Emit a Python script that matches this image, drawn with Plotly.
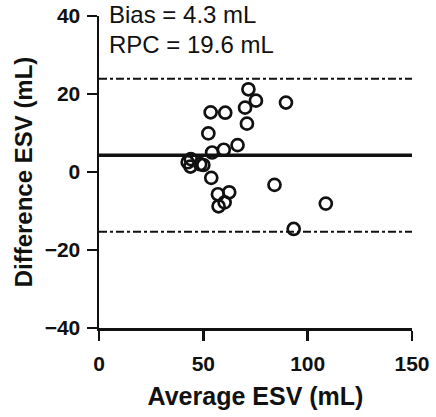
import plotly.graph_objects as go

avg_esv = [42.5, 44.0, 43.8, 48.5, 50.0, 53.5, 52.4, 54.2, 53.8, 57.0, 57.3, 60.2, 62.4,
           59.8, 60.5, 66.4, 70.0, 70.9, 71.6, 75.2, 89.6, 84.1, 93.3, 108.7]
diff_esv = [2.5, 3.3, 1.4, 2.0, 1.8, 15.3, 9.9, 5.0, -1.5, -5.7, -8.8, -7.8, -5.2,
            5.7, 15.2, 6.9, 16.5, 12.4, 21.2, 18.3, 17.8, -3.3, -14.6, -8.1]
bias = 4.3
rpc = 19.6
x_ticks = [0, 50, 100, 150]
y_ticks = [-40, -20, 0, 20, 40]

FONT = "Liberation Sans, Arial, sans-serif"

fig = go.Figure()
fig.add_trace(go.Scatter(
    x=avg_esv, y=diff_esv, mode="markers",
    marker=dict(symbol="circle-open", size=12, color="#111111",
                line=dict(width=2.7, color="#111111")),
    showlegend=False, cliponaxis=False, hoverinfo="skip",
))

fig.add_shape(type="line", xref="x", yref="y", x0=0, x1=150, y0=bias, y1=bias,
              line=dict(color="#111111", width=3.5))
for v in (bias + rpc, bias - rpc):
    fig.add_shape(type="line", xref="x", yref="y", x0=0, x1=150, y0=v, y1=v,
                  line=dict(color="#111111", width=2, dash="8px,3px,3px,3px"))

fig.add_annotation(x=0.025, y=1.005, xref="paper", yref="paper", text=f"Bias = {bias} mL",
                   showarrow=False, xanchor="left", yanchor="middle",
                   font=dict(family=FONT, size=24, color="#111111"))
fig.add_annotation(x=0.025, y=0.91, xref="paper", yref="paper", text=f"RPC = {rpc} mL",
                   showarrow=False, xanchor="left", yanchor="middle",
                   font=dict(family=FONT, size=24, color="#111111"))

axis_common = dict(
    showgrid=False, zeroline=False, showline=True, linecolor="#111111", linewidth=2.5,
    ticks="outside", ticklen=10, tickwidth=2.5, tickcolor="#111111", automargin=False,
    tickfont=dict(family=FONT, size=21, color="#111111", weight="bold"),
)

fig.update_xaxes(range=[0, 150], tickvals=x_ticks, ticklabelstandoff=5,
                 title=dict(text="Average ESV (mL)", standoff=14,
                            font=dict(family=FONT, size=25, color="#111111", weight="bold")),
                 **axis_common)
fig.update_yaxes(range=[-40, 40], tickvals=y_ticks, ticklabelstandoff=2,
                 title=dict(text="Difference ESV (mL)", standoff=6,
                            font=dict(family=FONT, size=24, color="#111111", weight="bold")),
                 **axis_common)

fig.update_layout(
    width=436, height=417,
    margin=dict(l=99, r=24, t=16, b=89),
    paper_bgcolor="white", plot_bgcolor="white",
    font=dict(family=FONT, color="#111111"),
)

fig.write_html("out.html", config={"displayModeBar": False, "staticPlot": True},
               post_script="document.body.style.margin='0';document.body.style.overflow='hidden';")
